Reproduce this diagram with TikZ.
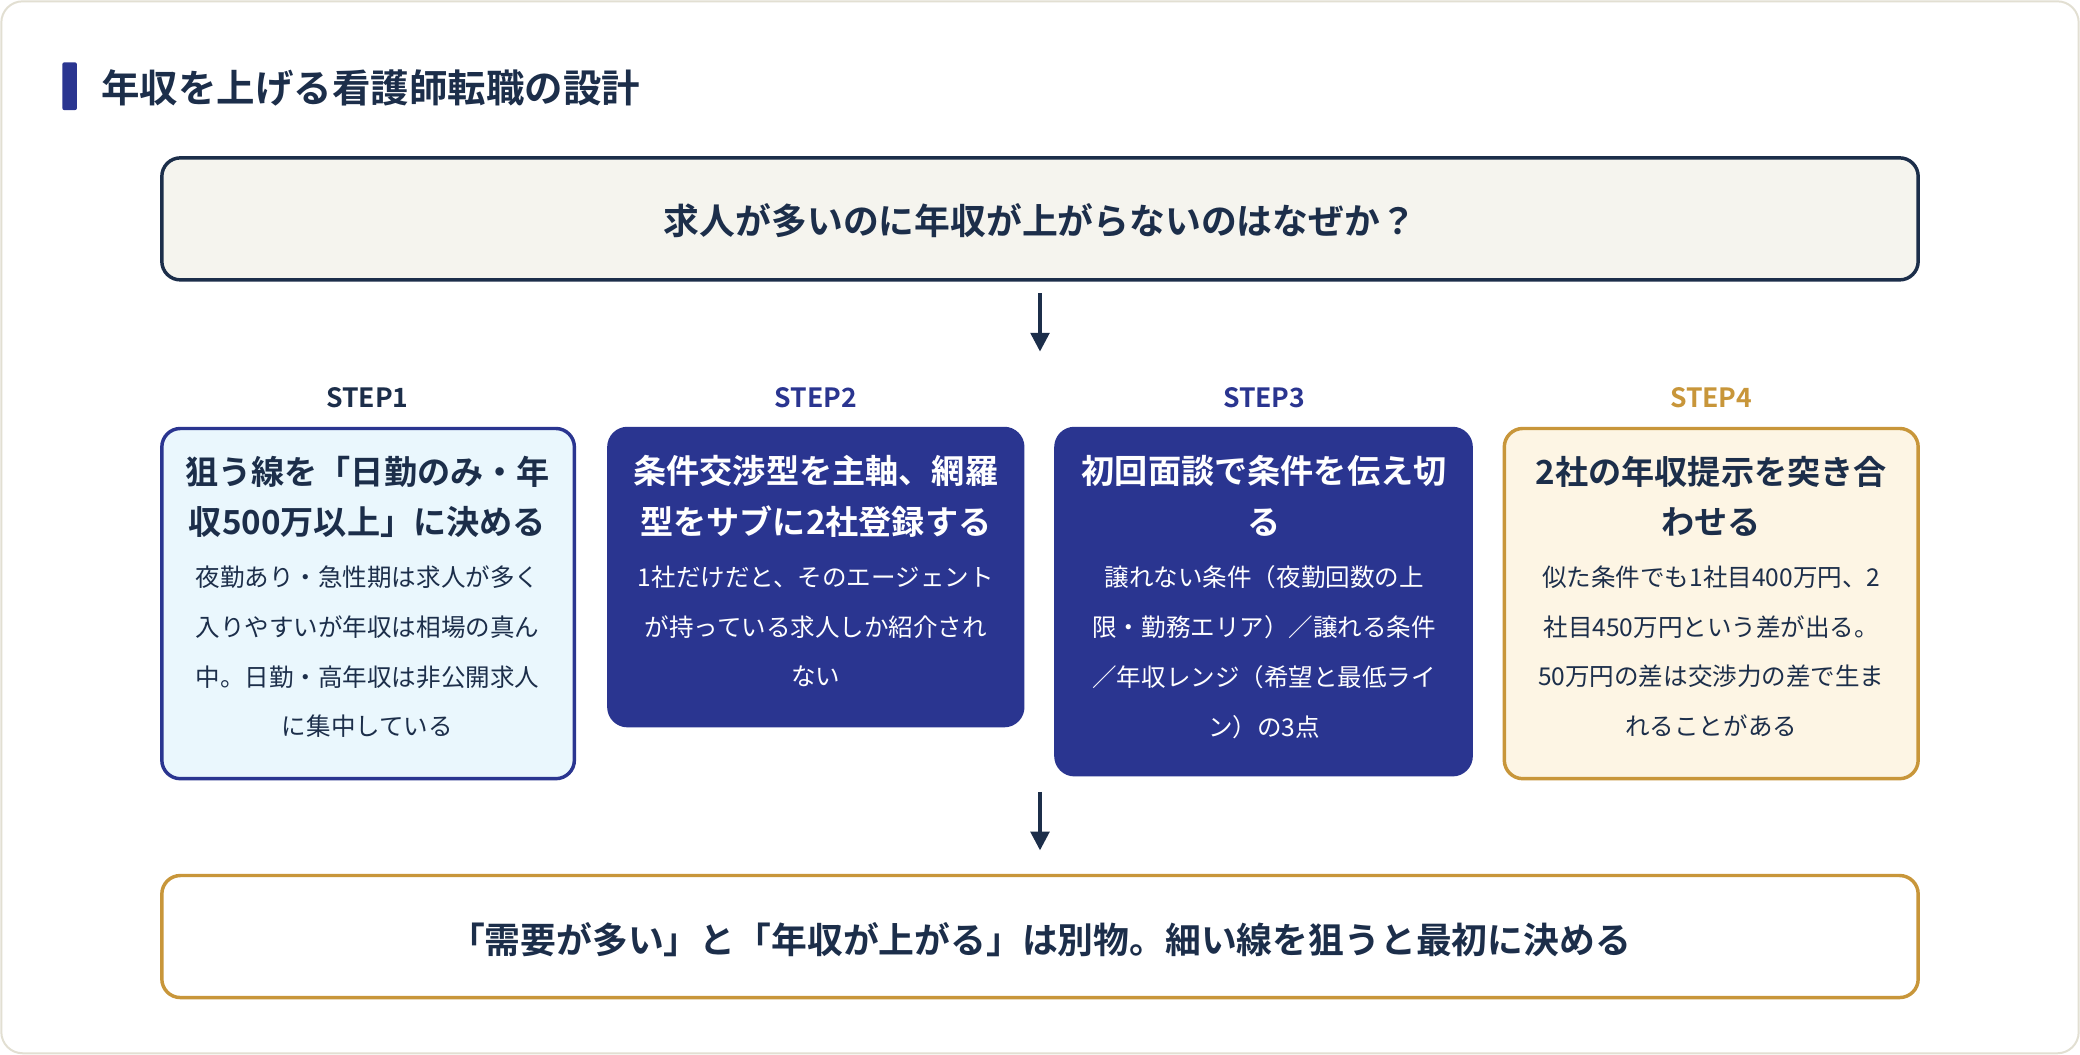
\documentclass[tikz,border=0pt]{standalone}
\usepackage{fontspec}
\setmainfont{Noto Sans CJK JP}[BoldFont={Noto Sans CJK JP Bold}]
\usetikzlibrary{arrows.meta}
\definecolor{navy}{HTML}{1C2E4A}
\definecolor{indig}{HTML}{2A3590}
\definecolor{gold}{HTML}{C8963A}
\definecolor{paper}{HTML}{F5F4EE}
\definecolor{ice}{HTML}{EAF7FD}
\definecolor{cream}{HTML}{FDF5E4}
\definecolor{edge}{HTML}{E2DFD2}
\begin{document}
\begin{tikzpicture}[x=1pt,y=-1pt,
 box/.style={draw, line width=2.6pt, rounded corners=14pt},
 ttl/.style={font=\fontsize{25}{38}\selectfont\bfseries, align=center, anchor=north},
 body/.style={font=\fontsize{18.5}{37.5}\selectfont, align=center, anchor=north},
 stp/.style={font=\fontsize{20}{24}\selectfont\bfseries},
 arr/.style={-{Triangle[length=14pt,width=14pt]}, line width=2.6pt, navy}]
\useasboundingbox (0,0) rectangle (1568,795);
\draw[edge, fill=white, line width=1.5pt, rounded corners=16pt] (1,1) rectangle (1567,794);
\fill[indig, rounded corners=1.5pt] (47,47) rectangle (58,83);
\node[anchor=west, text=navy, font=\fontsize{29}{34}\selectfont\bfseries] (title) at (73,66) {年収を上げる看護師転職の設計};
\draw[box, navy, fill=paper] (122,119) rectangle (1446,211);
\node[text=navy, font=\fontsize{27}{32}\selectfont\bfseries] (q) at (784,166) {求人が多いのに年収が上がらないのはなぜか？};
\coordinate (a1) at (784,221); \coordinate (a2) at (784,265);
\draw[arr] (a1) -- (a2);
\node[stp, text=navy] (s1) at (277,300) {STEP1};
\node[stp, text=indig] (s2) at (615,300) {STEP2};
\node[stp, text=indig] (s3) at (953,300) {STEP3};
\node[stp, text=gold] (s4) at (1290,300) {STEP4};
\draw[box, indig, fill=ice] (122,323) rectangle (433,587);
\draw[box, indig, fill=indig] (459,323) rectangle (771,547);
\draw[box, indig, fill=indig] (796,323) rectangle (1109,584);
\draw[box, gold, fill=cream] (1134,323) rectangle (1446,587);
\node[ttl, text=navy] (t1) at (277,340) {狙う線を「日勤のみ・年\\収500万以上」に決める};
\node[body, text=navy] (b1) at (277,423) {夜勤あり・急性期は求人が多く\\入りやすいが年収は相場の真ん\\中。日勤・高年収は非公開求人\\に集中している};
\node[ttl, text=white] (t2) at (615,340) {条件交渉型を主軸、網羅\\型をサブに2社登録する};
\node[body, text=white] (b2) at (615,423) {1社だけだと、そのエージェント\\が持っている求人しか紹介され\\ない};
\node[ttl, text=white] (t3) at (953,340) {初回面談で条件を伝え切\\る};
\node[body, text=white] (b3) at (953,423) {譲れない条件（夜勤回数の上\\限・勤務エリア）／譲れる条件\\／年収レンジ（希望と最低ライ\\ン）の3点};
\node[ttl, text=navy] (t4) at (1290,340) {2社の年収提示を突き合\\わせる};
\node[body, text=navy] (b4) at (1290,423) {似た条件でも1社目400万円、2\\社目450万円という差が出る。\\50万円の差は交渉力の差で生ま\\れることがある};
\coordinate (c1) at (784,597); \coordinate (c2) at (784,641);
\draw[arr] (c1) -- (c2);
\draw[box, gold, fill=white] (122,660) rectangle (1446,752);
\node[text=navy, font=\fontsize{27}{32}\selectfont\bfseries] (concl) at (784,708) {「需要が多い」と「年収が上がる」は別物。細い線を狙うと最初に決める};
\end{tikzpicture}
\end{document}
